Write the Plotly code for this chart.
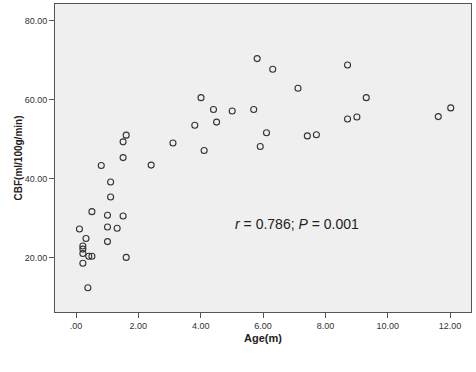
import plotly.graph_objects as go

age_m = [5.81, 6.31, 7.12, 8.71, 4.01, 9.31, 4.41, 5.01, 5.70, 12.02, 11.62,
         8.71, 9.01, 3.81, 4.51, 6.11, 7.42, 7.71, 1.61, 1.51, 3.11, 4.11,
         5.91, 1.51, 0.81, 2.41, 1.11, 1.11, 0.51, 1.01, 1.51, 0.11, 1.01,
         1.32, 0.32, 1.01, 0.22, 0.22, 0.22, 0.41, 0.51, 1.61, 0.22, 0.38]
cbf = [70.4, 67.7, 62.9, 68.8, 60.5, 60.5, 57.5, 57.1, 57.5, 57.9, 55.7,
       55.1, 55.6, 53.5, 54.3, 51.6, 50.8, 51.1, 51.0, 49.3, 49.0, 47.1,
       48.1, 45.3, 43.3, 43.4, 39.1, 35.3, 31.6, 30.7, 30.5, 27.2, 27.7,
       27.4, 24.8, 24.0, 22.9, 22.1, 21.0, 20.3, 20.3, 20.0, 18.5, 12.3]

x_tickvals = [0, 2, 4, 6, 8, 10, 12]
x_ticktext = [".00", "2.00", "4.00", "6.00", "8.00", "10.00", "12.00"]
y_tickvals = [20, 40, 60, 80]
y_ticktext = ["20.00", "40.00", "60.00", "80.00"]

x_title = "Age(m)"
y_title = "CBF(ml/100g/min)"

font_family = "Arial, Liberation Sans, sans-serif"

fig = go.Figure()
fig.add_trace(go.Scatter(
    x=age_m, y=cbf, mode="markers",
    marker=dict(symbol="circle-open", size=6, color="#333333",
                line=dict(width=1.1, color="#333333")),
    showlegend=False, hoverinfo="skip"))

fig.add_annotation(
    x=7.09, y=28.4, xref="x", yref="y",
    text="<i>r</i> = 0.786; <i>P</i> = 0.001",
    showarrow=False, font=dict(family=font_family, size=14, color="#222222"))

# axis titles
fig.add_annotation(
    x=0.5, y=0, xref="paper", yref="paper", yshift=-26,
    xanchor="center", yanchor="middle", showarrow=False,
    text="<b>" + x_title + "</b>",
    font=dict(family=font_family, size=11, color="#222222"))
fig.add_annotation(
    x=0, y=0.5, xref="paper", yref="paper", xshift=-37.5,
    xanchor="center", yanchor="middle", showarrow=False, textangle=-90,
    text="<b>" + y_title + "</b>",
    font=dict(family=font_family, size=10, color="#222222"))

axis_common = dict(
    showgrid=False, zeroline=False, showline=True, linecolor="#555555",
    linewidth=1, mirror=True, ticks="outside", ticklen=5, tickwidth=1,
    tickcolor="#555555", automargin=False,
    tickfont=dict(family=font_family, size=9, color="#333333"))

fig.update_xaxes(
    range=[-0.674, 12.67], tickvals=x_tickvals, ticktext=x_ticktext,
    **axis_common)
fig.update_yaxes(
    range=[6.15, 84.25], tickvals=y_tickvals, ticktext=y_ticktext,
    **axis_common)

fig.update_layout(
    width=476, height=372,
    margin=dict(l=55, r=5, t=4, b=60),
    plot_bgcolor="#EFEFEF", paper_bgcolor="white",
    font=dict(family=font_family))

fig.write_html("out.html",
               config={"displayModeBar": False},
               post_script="document.body.style.margin='0';")
